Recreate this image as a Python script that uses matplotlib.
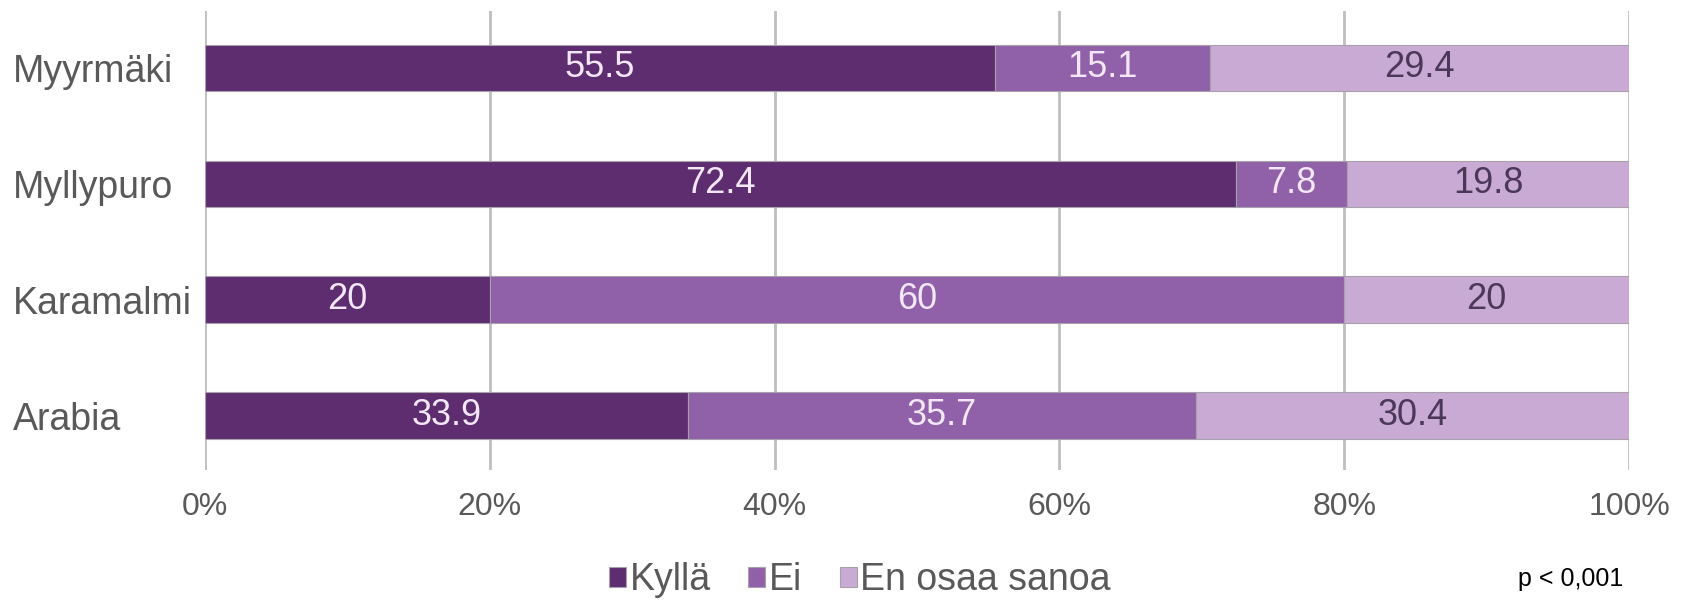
import numpy as np
import matplotlib.pyplot as plt

plt.rcParams['font.family'] = ['Liberation Sans', 'DejaVu Sans']

areas = ['Arabia', 'Karamalmi', 'Myllypuro', 'Myyrmäki']
kylla = [33.9, 20, 72.4, 55.5]
ei = [35.7, 60, 7.8, 15.1]
en_osaa = [30.4, 20, 19.8, 29.4]
series_names = ['Kyllä', 'Ei', 'En osaa sanoa']
colors = ['#5e2d70', '#9060a8', '#c9aad5']
text_colors = ['#f3e6f7', '#f3e6f7', '#4b3858']
ticks = [0, 20, 40, 60, 80, 100]


def main():
    fig = plt.figure(figsize=(16.94, 6), dpi=100)
    ax = fig.add_axes([205 / 1694, 130 / 600, (1629 - 205) / 1694, 459 / 600])

    y = np.arange(len(areas))
    left = np.zeros(len(areas))
    for vals, name, col, tcol in zip([kylla, ei, en_osaa], series_names, colors, text_colors):
        vals = np.array(vals, dtype=float)
        bars = ax.barh(y, vals, left=left, height=0.4, color=col, label=name,
                       edgecolor='#a8a0ab', linewidth=0.8, zorder=3)
        labels = [('%g' % v) for v in vals]
        ax.bar_label(bars, labels=labels, label_type='center', color=tcol, fontsize=26)
        left += vals

    ax.set_xlim(0, 100)
    ax.set_ylim(-0.47, 3.49)
    ax.set_xticks(ticks)
    ax.set_xticklabels(['%d%%' % t for t in ticks])
    ax.set_yticks(y)
    ax.set_yticklabels(areas)
    ax.tick_params(axis='x', length=0, pad=16, labelsize=23, labelcolor='#595959')
    ax.tick_params(axis='y', length=0, pad=138, labelsize=27, labelcolor='#595959')
    for lab in ax.get_yticklabels():
        lab.set_horizontalalignment('left')
    ax.grid(axis='x', color='#bfbfbf', linewidth=2, zorder=0)
    for s in ax.spines.values():
        s.set_visible(False)

    fig.legend(loc='center', bbox_to_anchor=(860 / 1694, 1 - 580 / 600), ncol=3,
               frameon=False, fontsize=27, handlelength=0.45, handleheight=0.45,
               handletextpad=0.1, columnspacing=1.0, labelcolor='#595959')
    fig.text(1571 / 1694, 1 - 579 / 600, 'p < 0,001', ha='center', va='center', fontsize=18)

    fig.savefig('out.png', dpi=100)


if __name__ == '__main__':
    main()
